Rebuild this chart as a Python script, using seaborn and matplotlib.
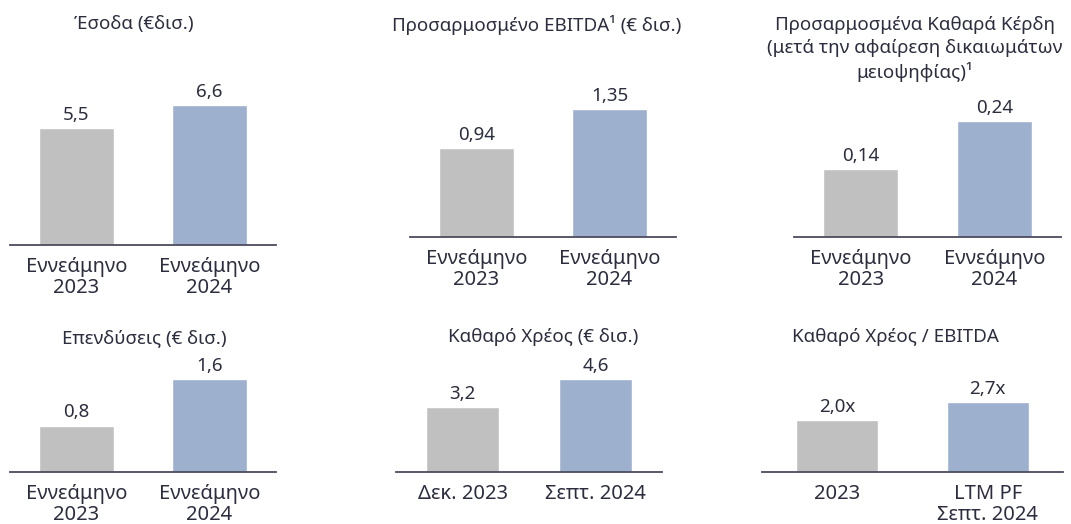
import numpy as np
import pandas as pd
import seaborn as sns
import matplotlib
matplotlib.use("Agg")
import matplotlib.pyplot as plt

# chart data
titles = [
    "Έσοδα (€δισ.)",
    "Προσαρμοσμένο EBITDA¹ (€ δισ.)",
    "Προσαρμοσμένα Καθαρά Κέρδη\n(μετά την αφαίρεση δικαιωμάτων\nμειοψηφίας)¹",
    "Επενδύσεις (€ δισ.)",
    "Καθαρό Χρέος (€ δισ.)",
    "Καθαρό Χρέος / EBITDA",
]
categories = [
    ["Εννεάμηνο\n2023", "Εννεάμηνο\n2024"],
    ["Εννεάμηνο\n2023", "Εννεάμηνο\n2024"],
    ["Εννεάμηνο\n2023", "Εννεάμηνο\n2024"],
    ["Εννεάμηνο\n2023", "Εννεάμηνο\n2024"],
    ["Δεκ. 2023", "Σεπτ. 2024"],
    ["2023", "LTM PF\nΣεπτ. 2024"],
]
revenue = [5.5, 6.6]
ebitda = [0.94, 1.35]
net_profit = [0.14, 0.24]
capex = [0.8, 1.6]
net_debt = [3.2, 4.6]
leverage = [2.0, 2.7]
series = [revenue, ebitda, net_profit, capex, net_debt, leverage]
decimals = [1, 2, 2, 1, 1, 1]
suffix = ["", "", "", "", "", "x"]

# layout (pixels): left, right, baseline y, px height of tallest bar, title centre x, title y
W, H = 1071, 524
layout = [
    (10, 276, 245, 140, 134, 24),
    (410, 676, 237, 128, 537, 25),
    (794, 1061, 237, 116, 915, 49),
    (10, 276, 472, 93, 144, 338),
    (396, 662, 472, 93, 543, 337),
    (762, 1063, 472, 70, 895, 337),
]
bar_w = [0.56, 0.56, 0.56, 0.56, 0.55, 0.545]

grey = "#C0C0C0"
blue = "#9DB0CE"
text_col = "#2C2D3E"
line_col = "#4B4B5E"

sns.set_theme(style="white")
plt.rcParams['font.family'] = ['Noto Sans', 'DejaVu Sans']

fig = plt.figure(figsize=(W / 100, H / 100), dpi=100)

for i in range(6):
    left, right, base, top_px, tx, ty = layout[i]
    vals = series[i]
    ax = fig.add_axes([left / W, (H - base) / H, (right - left) / W, top_px / H])
    df = pd.DataFrame({"cat": categories[i], "val": vals})
    sns.barplot(data=df, x="cat", y="val", hue="cat", palette=[grey, blue],
                width=bar_w[i], legend=False, ax=ax, saturation=1)
    ax.set_xlim(-0.5, 1.5)
    ax.set_ylim(0, max(vals))
    labels = [f"{v:.{decimals[i]}f}".replace(".", ",") + suffix[i] for v in vals]
    for cont in ax.containers:
        ax.bar_label(cont, labels=[labels[int(round(r.get_x() + r.get_width() / 2))] for r in cont],
                     padding=3, fontsize=13.5, color=text_col)
    for s in ["top", "left", "right"]:
        ax.spines[s].set_visible(False)
    ax.spines["bottom"].set_color(line_col)
    ax.spines["bottom"].set_linewidth(1.3)
    ax.set_xlabel("")
    ax.set_ylabel("")
    ax.set_yticks([])
    ax.tick_params(axis="x", length=0, pad=8.5, labelsize=14.5, colors=text_col)
    for t in ax.get_xticklabels():
        t.set_linespacing(1.05)
    ax.patch.set_alpha(0)
    fig.text(tx / W, 1 - ty / H, titles[i], ha="center", va="center",
             fontsize=13.5, fontweight="medium", color=text_col, linespacing=1.3)

fig.savefig("out.png", dpi=100)
